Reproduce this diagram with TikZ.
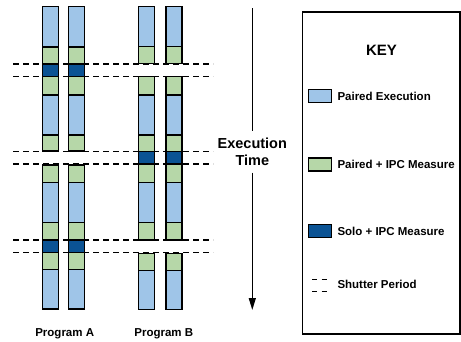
\documentclass[tikz,border=0pt]{standalone}
\usepackage{fontspec}
\setmainfont{Liberation Sans}
\usetikzlibrary{arrows.meta}
\definecolor{pairblue}{HTML}{9FC5E8}
\definecolor{pairgreen}{HTML}{B6D7A8}
\definecolor{soloblue}{HTML}{0B5394}

\begin{document}
\begin{tikzpicture}[x=1pt,y=-1pt,
  seg/.style={draw=black,line width=1.4pt},
  shutter/.style={dash pattern=on 6pt off 4pt,line width=1.2pt},
  lbl/.style={font=\fontsize{11.5}{13}\selectfont\bfseries,inner sep=0pt}]
 \useasboundingbox (0,0) rectangle (461,341);
 % program A
 \foreach \x in {42.5,68.5}
  \foreach \a/\b/\c in
   {
     6.5/47/pairblue, 47/64/pairgreen, 64/76.5/soloblue,
     76.5/95/pairgreen, 95/135/pairblue, 135/151/pairgreen,
     165/182.5/pairgreen, 182.5/222.5/pairblue, 222.5/240/pairgreen,
     240/252.5/soloblue, 252.5/269.3/pairgreen, 269.3/309/pairblue}
   \draw[seg,fill=\c] (\x,\a) rectangle (\x+16,\b);
 % program B
 \foreach \x in {138.5,166}
  \foreach \a/\b/\c in
   {
     6.5/46.5/pairblue, 46.5/63.5/pairgreen,
     76.5/95/pairgreen, 95/135/pairblue, 135/151.5/pairgreen,
     151.5/164/soloblue, 164/182.5/pairgreen, 182.5/222.5/pairblue,
     222.5/240/pairgreen, 253.5/270.5/pairgreen, 270.5/309.5/pairblue}
   \draw[seg,fill=\c] (\x,\a) rectangle (\x+16,\b);
 % shutter periods
 \foreach \y in {64,76.5,151.5,164,240,252.5}
  \draw[shutter] (13,\y) -- (213,\y);
 \node[lbl,anchor=base] (proga) at (64.7,336.7) {Program A};
 \node[lbl,anchor=base] (progb) at (163.8,336.7) {Program B};
 % time axis
 \coordinate (ttop) at (252.3,8);
 \coordinate (tbot) at (252.3,310);
 \node[font=\fontsize{14.5}{16.7}\selectfont\bfseries,align=center,
   inner xsep=0pt,inner ysep=7pt] (time) at (252.3,151.7) {Execution\\Time};
 \draw[line width=1.3pt] (ttop) -- (time.north);
 \draw[line width=1.3pt,-{Triangle[length=12pt,width=7pt]}] (time.south) -- (tbot);
 % key
 \draw[line width=1.5pt] (302.7,12) rectangle (459.8,334);
 \node[font=\fontsize{15}{17}\selectfont\bfseries] (keytitle) at (381.5,50.5) {KEY};
 \foreach \y/\c/\t [count=\i] in
  {
    96/pairblue/Paired Execution, 164.5/pairgreen/Paired + IPC Measure,
    231/soloblue/Solo + IPC Measure}
  {
    \draw[seg,fill=\c] (308.3,\y-6.5) rectangle (331.7,\y+6.5);
    \node[lbl,anchor=west] (key\i) at (337.3,\y) {\t};
  }
 \draw[shutter,dash pattern=on 5pt off 4.4pt] (312.3,279.5) -- (326.7,279.5);
 \draw[shutter,dash pattern=on 5pt off 4.4pt] (312.3,291.5) -- (326.7,291.5);
 \node[lbl,anchor=west] (key4) at (337.3,284.5) {Shutter Period};
\end{tikzpicture}
\end{document}
